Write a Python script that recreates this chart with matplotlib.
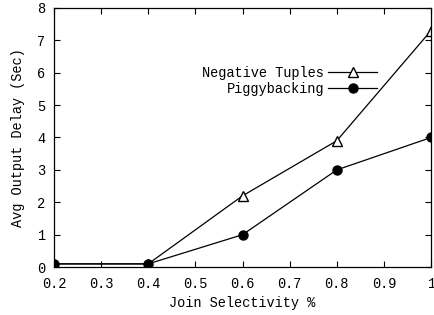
import matplotlib
matplotlib.use("Agg")
import matplotlib.pyplot as plt

# data
selectivity = [0.2, 0.4, 0.6, 0.8, 1.0]
negative_tuples = [0.1, 0.1, 2.2, 3.9, 7.3]
piggybacking = [0.1, 0.1, 1.0, 3.0, 4.0]

plt.rcParams['font.family'] = ['Liberation Mono', 'DejaVu Sans Mono']
plt.rcParams['font.size'] = 9.8

fig = plt.figure(figsize=(4.35, 3.15), dpi=100)
ax = fig.add_axes([0.124, 0.152, 0.867, 0.823])

ax.plot(selectivity, negative_tuples, color='black', lw=0.9, marker='^',
        markersize=6.5, markerfacecolor='white', markeredgecolor='black',
        label='Negative Tuples')
ax.plot(selectivity, piggybacking, color='black', lw=0.9, marker='o',
        markersize=6.5, markerfacecolor='black', label='Piggybacking')

ax.set_xlim(0.2, 1.0)
ax.set_ylim(0, 8)
ax.set_xticks([0.2, 0.3, 0.4, 0.5, 0.6, 0.7, 0.8, 0.9, 1.0])
ax.set_xticklabels(['0.2', '0.3', '0.4', '0.5', '0.6', '0.7', '0.8', '0.9', '1'])
ax.set_yticks(range(0, 9))
ax.tick_params(direction='in', top=True, right=True, length=4, width=0.8)
ax.tick_params(axis='x', pad=7)
ax.tick_params(axis='y', pad=6)
ax.set_xlabel('Join Selectivity %', labelpad=4)
ax.set_ylabel('Avg Output Delay (Sec)', labelpad=9)

for s in ax.spines.values():
    s.set_linewidth(0.9)

leg = ax.legend(loc='upper right', bbox_to_anchor=(0.857, 0.775), frameon=False,
                markerfirst=False, handlelength=3.6, handletextpad=0.3,
                labelspacing=0.15, borderaxespad=0, borderpad=0)
for t in leg.get_texts():
    t.set_ha('right')

fig.savefig('out.png', dpi=100)
